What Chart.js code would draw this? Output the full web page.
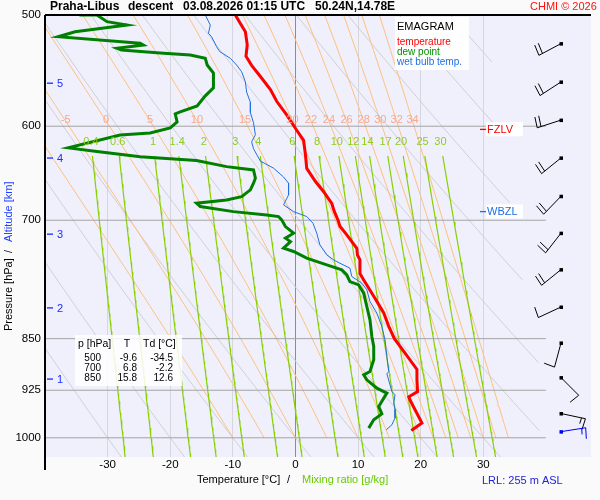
<!DOCTYPE html>
<html>
<head>
<meta charset="utf-8">
<script src="https://cdn.jsdelivr.net/npm/chart.js@4.4.1/dist/chart.umd.min.js"></script>
<style>
  body { margin: 0; background: #fafafa; }
  canvas { display: block; }
</style>
</head>
<body>
<canvas id="emagram" width="600" height="500"></canvas>
<script>
// sounding values (pressure hPa, temperature degC)
const tempP = [500, 507, 514, 525, 535, 543, 553, 565, 576, 589, 604, 614, 629, 643, 657, 668, 681, 690, 700, 707, 717, 725, 733, 741, 747, 764, 772, 793, 815, 833, 850, 868, 894, 909, 927, 935, 940, 955, 976, 988];
const tempT = [-9.6, -8.8, -8.0, -7.7, -7.9, -7.0, -5.6, -4.0, -3.0, -1.4, 0.2, 1.3, 1.6, 1.8, 3.2, 4.5, 5.8, 6.2, 6.8, 7.1, 8.2, 9.0, 9.8, 9.9, 10.3, 10.3, 10.9, 12.5, 14.1, 14.9, 15.8, 17.3, 19.4, 19.4, 19.5, 18.1, 18.3, 19.1, 20.2, 18.5];

const dewP = [500, 500, 505.5, 508.3, 513.9, 518.1, 523.7, 525.2, 528, 529.5, 532.1, 533.9, 536.8, 542.7, 549.9, 563.5, 570.9, 580.4, 586.1, 588.1, 595.8, 601.7, 606.7, 608.7, 621.7, 625.5, 630.7, 634.8, 641.1, 644.6, 653.4, 658.8, 666, 673.4, 677.1, 680.7, 684.5, 690.2, 693.9, 695.8, 699.6, 707.3, 715, 720.9, 725, 732.8, 736.8, 744.9, 753.1, 759.3, 765.6, 774.1, 778.3, 788.9, 806.4, 824.1, 847, 861, 880, 897, 901.9, 909.4, 921.8, 929.4, 937.1, 950, 961.5, 971, 984.3];
const dewT = [-34.5, -31.7, -30.1, -26.9, -35.2, -37.9, -24.8, -24.3, -28.5, -27.8, -21.6, -16.8, -14.4, -14.1, -13.1, -13.1, -14.4, -15.7, -18.4, -19.2, -18.9, -20.0, -23.2, -28.0, -36.3, -31.7, -24.8, -15.8, -11.0, -6.7, -6.4, -6.7, -7.2, -8.6, -11.0, -15.8, -15.2, -9.9, -4.6, -2.7, -2.2, -1.6, -0.3, -1.6, -0.8, -1.9, -0.3, 1.8, 5.0, 7.4, 8.2, 8.7, 10.1, 10.9, 11.4, 11.9, 12.2, 12.5, 12.5, 11.9, 10.9, 11.4, 13.0, 14.6, 14.1, 13.3, 13.8, 12.5, 11.7];

const wetP = [500, 508.3, 515.2, 518.1, 526.7, 530.9, 536.8, 542.7, 548.7, 557.9, 567.3, 576.9, 586.7, 596.7, 608.5, 615.5, 622.6, 635.3, 642.7, 652.1, 658.8, 671.5, 682.6, 690.2, 695.8, 703.4, 715, 728.8, 740.9, 747, 751.1, 757.2, 767.7, 776.1, 784.6, 799.8, 815.2, 833.3, 851.6, 875.2, 897, 900.3, 926.9, 931.9, 944.6, 955.1, 968.2, 978.9, 987];
const wetT = [-14.4, -13.6, -13.9, -13.4, -12.6, -12.1, -10.4, -9.4, -8.6, -8.0, -7.8, -7.2, -7.2, -6.7, -6.4, -7.0, -6.7, -5.6, -3.5, -1.9, -1.1, -1.1, -1.9, -0.3, 1.8, 2.8, 3.4, 3.9, 5.0, 6.1, 7.1, 8.7, 9.0, 10.6, 11.4, 11.9, 13.0, 13.8, 14.3, 14.6, 14.9, 14.6, 15.4, 15.9, 15.7, 15.9, 15.9, 15.4, 14.5];

// wind (direction deg, speed kt)
const windP = [524, 558, 594, 632, 673, 715, 759, 807, 856, 906, 961];
const windDir = [242, 237, 252, 231, 224, 218, 231, 245, 195, 135, 102];
const windKt = [20, 20, 20, 20, 20, 20, 20, 10, 10, 10, 15];
const sfcP = 990, sfcDir = 81, sfcKt = 15;

// axis / diagram values
const xTickVals = [-30, -20, -10, 0, 10, 20, 30];
const pLevels = [500, 600, 700, 850, 925, 1000];
const altKm = [1, 2, 3, 4, 5];
const altP = [908, 808, 716, 632, 559];
const mixRatios = [0.4, 0.6, 1, 1.4, 2, 3, 4, 6, 8, 10, 12, 14, 17, 20, 25, 30];
const moistThetaW = [-10, -5, 0, 5, 10, 15, 20, 22, 24, 26, 28, 30, 32, 34];
const dryTheta = [-30, -20, -10, 0, 10, 20, 30, 40, 50, 60, 70, 80, 90];
const tableP = [500, 700, 850];
const tableT = [-9.6, 6.8, 15.8];
const tableTd = [-34.5, -2.2, 12.6];
const fzlvP = 603, wbzlP = 690;

// ---- diagram reference lines (physics of the emagram) ----
function satVap(tc) { return 6.112 * Math.exp(17.67 * tc / (tc + 243.5)); }

function moistLapse(p, tk) {
  const es = satVap(tk - 273.15);
  const rs = 0.622 * es / (p - es);
  const Rd = 287.04, Cp = 1005.7, Lv = 2.501e6;
  return (Rd * tk + Lv * rs) / (Cp + Lv * Lv * rs * 0.622 / (Rd * tk * tk)) / p;
}

function moistLine(tw) {
  const pts = [{ x: tw, y: 1000 }];
  let tk = tw + 273.15, p = 1000;
  const dp = -5;
  while (p > 500) {
    const k1 = moistLapse(p, tk);
    const k2 = moistLapse(p + dp / 2, tk + k1 * dp / 2);
    const k3 = moistLapse(p + dp / 2, tk + k2 * dp / 2);
    const k4 = moistLapse(p + dp, tk + k3 * dp);
    tk += dp * (k1 + 2 * k2 + 2 * k3 + k4) / 6;
    p += dp;
    pts.push({ x: tk - 273.15, y: p });
  }
  return pts;
}

function mixLine(w) {
  const pts = [];
  for (let p = 630; p <= 1032; p += 6) {
    const e = w * p / (622 + w);
    const l = Math.log(e / 6.112);
    pts.push({ x: 243.5 * l / (17.67 - l), y: p });
  }
  return pts;
}

function dryLine(th) {
  const pts = [];
  for (let p = 500; p <= 1032; p += 4) {
    const t = (th + 273.15) * Math.pow(p / 1000, 0.2857) - 273.15;
    const lim = Math.min(39, 31.4 + 0.0217 * (p - 540));
    if (t <= lim) pts.push({ x: t, y: p });
  }
  return pts;
}

function series(ps, ts) { return ps.map((p, i) => ({ x: ts[i], y: p })); }

const datasets = [];
datasets.push({ data: series(tempP, tempT), borderColor: '#ff0000', borderWidth: 3, order: 1 });
datasets.push({ data: series(dewP, dewT), borderColor: '#008000', borderWidth: 3, order: 2 });
datasets.push({ data: series(wetP, wetT), borderColor: '#2070e0', borderWidth: 1, order: 3 });

pLevels.slice(1).forEach(p => {
  datasets.push({ data: [{ x: -40, y: p }, { x: 40, y: p }], borderColor: '#a4a4a4', borderWidth: 1, order: 20 });
});
mixRatios.forEach(w => {
  datasets.push({ data: mixLine(w), borderColor: '#88d000', borderWidth: 1.2, order: 30 });
});
moistThetaW.forEach(t => {
  datasets.push({ data: moistLine(t), borderColor: '#ffc07c', borderWidth: 1, order: 40, label: 'm' + t });
});
dryTheta.forEach(t => {
  datasets.push({ data: dryLine(t), borderColor: '#cfcfd4', borderWidth: 1, order: 50 });
});
datasets.forEach(d => { d.showLine = true; d.pointRadius = 0; d.tension = 0; });

function drawBarb(ctx, x, y, dir, kt, color) {
  const r = dir * Math.PI / 180;
  const ux = Math.sin(r), uy = -Math.cos(r);
  const ex = x + ux * 25, ey = y + uy * 25;
  const bx = -uy - 0.1 * ux, by = ux - 0.1 * uy;
  ctx.strokeStyle = color;
  ctx.fillStyle = color;
  ctx.lineWidth = 1;
  ctx.beginPath();
  ctx.moveTo(x, y);
  ctx.lineTo(ex, ey);
  let k = 0;
  let full = Math.floor(kt / 10);
  const half = kt % 10 >= 5;
  for (; k < full; k++) {
    const sx = ex - ux * 4 * k, sy = ey - uy * 4 * k;
    ctx.moveTo(sx, sy);
    ctx.lineTo(sx + bx * 11, sy + by * 11);
  }
  if (half) {
    const sx = ex - ux * 4 * k, sy = ey - uy * 4 * k;
    ctx.moveTo(sx, sy);
    ctx.lineTo(sx + bx * 6, sy + by * 6);
  }
  ctx.stroke();
  ctx.fillRect(x - 1.5, y - 1.5, 3.5, 3.5);
}

const decor = {
  id: 'decor',
  beforeDraw(chart) {
    const { ctx, chartArea: a } = chart;
    ctx.save();
    ctx.fillStyle = '#fafafa';
    ctx.fillRect(0, 0, chart.width, chart.height);
    ctx.fillStyle = '#f0f0fc';
    ctx.fillRect(a.left, a.top, a.right - a.left, a.bottom - a.top);
    ctx.restore();
  },
  afterDatasetsDraw(chart) {
    const { ctx, chartArea: a } = chart;
    const xs = chart.scales.x, ys = chart.scales.y;
    ctx.save();
    ctx.font = '11px "Liberation Sans", Arial, sans-serif';
    ctx.textBaseline = 'middle';
    ctx.textAlign = 'center';
    // moist adiabat labels just above 600 hPa
    ctx.fillStyle = '#f7a88e';
    moistThetaW.forEach(t => {
      const pts = moistLine(t);
      const pt = pts.find(q => q.y <= 595);
      const px = xs.getPixelForValue(pt.x);
      if (px > a.left + 8 && px < a.right) ctx.fillText(String(t), px, ys.getPixelForValue(594));
    });
    // mixing ratio labels
    ctx.fillStyle = '#8fcc20';
    mixRatios.forEach(w => {
      const e = w * 616 / (622 + w);
      const l = Math.log(e / 6.112);
      const tt = 243.5 * l / (17.67 - l);
      ctx.fillText(String(w), xs.getPixelForValue(tt), ys.getPixelForValue(616));
    });

    // legend box
    ctx.fillStyle = 'rgba(255,255,255,0.9)';
    ctx.fillRect(395, 17, 74, 53);
    ctx.textAlign = 'left';
    ctx.fillStyle = '#000';
    ctx.font = '11px "Liberation Sans", Arial, sans-serif';
    ctx.fillText('EMAGRAM', 397, 27);
    ctx.font = '10px "Liberation Sans", Arial, sans-serif';
    ctx.fillStyle = '#ff0000';
    ctx.fillText('temperature', 397, 42);
    ctx.fillStyle = '#009000';
    ctx.fillText('dew point', 397, 52);
    ctx.fillStyle = '#2070e0';
    ctx.fillText('wet bulb temp.', 397, 62);

    // value table
    ctx.fillStyle = 'rgba(255,255,255,0.85)';
    ctx.fillRect(75, 335, 107, 51);
    ctx.fillStyle = '#000';
    ctx.font = '10.5px "Liberation Sans", Arial, sans-serif';
    ctx.fillText('p [hPa]', 78, 344);
    ctx.textAlign = 'center';
    ctx.fillText('T', 127, 344);
    ctx.textAlign = 'left';
    ctx.fillText('Td [°C]', 143, 344);
    ctx.font = '10px "Liberation Sans", Arial, sans-serif';
    ctx.textAlign = 'right';
    tableP.forEach((p, i) => {
      const yy = 358 + i * 10;
      ctx.fillText(String(p), 101, yy);
      ctx.fillText(tableT[i].toFixed(1), 137, yy);
      ctx.fillText(tableTd[i].toFixed(1), 173, yy);
    });

    // freezing level / wet bulb zero
    ctx.textAlign = 'left';
    ctx.font = '11px "Liberation Sans", Arial, sans-serif';
    const fy = ys.getPixelForValue(fzlvP), wy = ys.getPixelForValue(wbzlP);
    ctx.fillStyle = '#ffffff';
    ctx.fillRect(486, fy - 7, 37, 14);
    ctx.fillRect(486, wy - 7, 37, 14);
    ctx.fillStyle = '#ff0000';
    ctx.fillRect(480, fy - 0.5, 6, 1.3);
    ctx.fillText('FZLV', 487, fy + 1);
    ctx.fillStyle = '#2070e0';
    ctx.fillRect(480, wy - 0.5, 6, 1.3);
    ctx.fillText('WBZL', 487, wy + 1);

    // altitude marks
    ctx.fillStyle = '#1a2cff';
    altKm.forEach((k, i) => {
      const yy = ys.getPixelForValue(altP[i]);
      ctx.fillRect(a.left + 2, yy - 0.5, 6, 1.3);
      ctx.fillText(String(k), a.left + 12, yy + 1);
    });

    // wind barbs
    const bxPos = a.right - 30;
    windP.forEach((p, i) => drawBarb(ctx, bxPos, ys.getPixelForValue(p), windDir[i], windKt[i], '#000'));
    drawBarb(ctx, bxPos, ys.getPixelForValue(sfcP), sfcDir, sfcKt, '#0000ee');
    ctx.restore();
  },
  afterDraw(chart) {
    const { ctx, chartArea: a } = chart;
    ctx.save();
    // frame
    ctx.strokeStyle = '#000';
    ctx.lineWidth = 2;
    ctx.beginPath();
    ctx.moveTo(a.left, a.top);
    ctx.lineTo(a.right, a.top);
    ctx.moveTo(a.left, a.top);
    ctx.lineTo(a.left, 470);
    ctx.stroke();

    ctx.textBaseline = 'middle';
    ctx.textAlign = 'left';
    ctx.fillStyle = '#000';
    ctx.font = 'bold 12px "Liberation Sans", Arial, sans-serif';
    ctx.fillText('Praha-Libus', 50, 7);
    ctx.fillText('descent', 128, 7);
    ctx.fillText('03.08.2026 01:15 UTC', 183, 7);
    ctx.fillText('50.24N,14.78E', 315, 7);
    ctx.font = '11px "Liberation Sans", Arial, sans-serif';
    ctx.fillStyle = '#ff1010';
    ctx.fillText('CHMI \u00a9 2026', 530, 7);

    // axis titles
    ctx.fillStyle = '#000';
    ctx.fillText('Temperature [°C]', 197, 480);
    ctx.fillText('/', 287, 480);
    ctx.fillStyle = '#66cc00';
    ctx.fillText('Mixing ratio [g/kg]', 302, 480);
    ctx.fillStyle = '#2222dd';
    ctx.fillText('LRL: 255 m ASL', 482, 481);

    ctx.translate(9, 331);
    ctx.rotate(-Math.PI / 2);
    ctx.fillStyle = '#000';
    ctx.fillText('Pressure [hPa]', 0, 0);
    ctx.fillText('/', 78, 0);
    ctx.fillStyle = '#2040ff';
    ctx.fillText('Altitude [km]', 89, 0);
    ctx.restore();
  }
};

Chart.defaults.font.family = '"Liberation Sans", Arial, sans-serif';

new Chart(document.getElementById('emagram'), {
  type: 'scatter',
  data: { datasets: datasets },
  plugins: [decor],
  options: {
    responsive: false,
    animation: false,
    devicePixelRatio: 1,
    layout: { padding: { top: 15, right: 9, left: 0, bottom: 0 } },
    plugins: { legend: { display: false }, tooltip: { enabled: false } },
    scales: {
      x: {
        type: 'linear',
        min: -40,
        max: 47.2,
        bounds: 'data',
        afterFit: s => { s.height = 43; },
        afterBuildTicks: s => { s.ticks = xTickVals.map(v => ({ value: v })); },
        grid: {
          color: c => (c.tick && c.tick.value === 0 ? '#8c8c8c' : '#d6d6dc'),
          drawTicks: false
        },
        border: { display: false },
        ticks: {
          color: '#000',
          font: { size: 11.5 },
          padding: 1,
          maxRotation: 0,
          autoSkip: false,
          callback: v => String(v)
        }
      },
      y: {
        type: 'logarithmic',
        reverse: true,
        min: 500,
        max: 1032,
        bounds: 'data',
        afterFit: s => { s.width = 45; },
        afterBuildTicks: s => { s.ticks = pLevels.map(v => ({ value: v })); },
        grid: { display: false, drawTicks: false },
        border: { display: false },
        ticks: {
          color: '#000',
          font: { size: 11.5 },
          padding: 4,
          autoSkip: false,
          callback: v => String(v)
        }
      }
    }
  }
});
</script>
</body>
</html>
